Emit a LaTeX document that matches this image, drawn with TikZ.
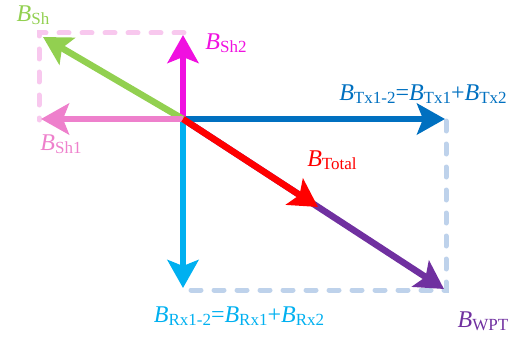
\documentclass[tikz,border=0pt]{standalone}
\usepackage{fontspec}
\setmainfont{Liberation Serif}
\usetikzlibrary{arrows.meta}
\definecolor{shgreen}{RGB}{146,208,80}
\definecolor{shmag}{RGB}{240,16,224}
\definecolor{shpink}{RGB}{238,128,204}
\definecolor{shlight}{RGB}{248,200,238}
\definecolor{txblue}{RGB}{0,112,192}
\definecolor{rxblue}{RGB}{0,176,240}
\definecolor{wptpurple}{RGB}{112,48,160}
\definecolor{boxblue}{RGB}{190,210,235}
\newcommand{\bsub}[1]{\textit{B}\raisebox{-0.3ex}{\fontsize{17}{17}\selectfont #1}}

\begin{document}
\begin{tikzpicture}[x=1pt,y=-1pt,
  vec/.style={line width=6.5pt,-{Stealth[length=28pt,width=31pt,inset=6pt]}},
  guide/.style={line width=5pt,line cap=round,dash pattern=on 10pt off 13pt},
  lbl/.style={font=\fontsize{24}{26}\selectfont,inner sep=0pt}]
\useasboundingbox (0,0) rectangle (517,337);
\coordinate (O) at (183,119);
\coordinate (Sh1) at (41,119);
\coordinate (Sh2) at (183,35);
\coordinate (Sh) at (43,37);
\coordinate (Tx) at (445,119);
\coordinate (Rx) at (183,288);
\coordinate (WPT) at (444,289);
\coordinate (Total) at (318,207);
\coordinate (shc) at (39,33);
\coordinate (shr) at (184,33);
\coordinate (shl) at (39,120);
\coordinate (txc) at (446,121);
\coordinate (wpc) at (446,290);
\coordinate (rxc) at (185,290);
% dashed guides
\draw[guide,shlight] (shr) -- (shc) -- (shl);
\draw[guide,boxblue] (txc) -- (wpc) -- (rxc);
% vectors
\draw[vec,wptpurple] (O) -- (WPT);
\draw[vec,rxblue] (O) -- (Rx);
\draw[vec,txblue] (O) -- (Tx);
\draw[vec,shmag] (O) -- (Sh2);
\draw[vec,shgreen] (O) -- (Sh);
\draw[vec,shpink] (O) -- (Sh1);
\draw[vec,red] (O) -- (Total);
% labels
\node[lbl,text=shgreen] (lSh) at (33,15) {\bsub{Sh}};
\node[lbl,text=shmag] (lSh2) at (226,43) {\bsub{Sh2}};
\node[lbl,text=shpink] (lSh1) at (61,144) {\bsub{Sh1}};
\node[lbl,text=txblue] (lTx) at (423,94) {\bsub{Tx1-2}=\bsub{Tx1}+\bsub{Tx2}};
\node[lbl,text=red] (lTotal) at (332,160) {\bsub{Total}};
\node[lbl,text=rxblue] (lRx) at (239,316) {\bsub{Rx1-2}=\bsub{Rx1}+\bsub{Rx2}};
\node[lbl,text=wptpurple] (lWPT) at (483,321) {\bsub{WPT}};
\end{tikzpicture}
\end{document}
